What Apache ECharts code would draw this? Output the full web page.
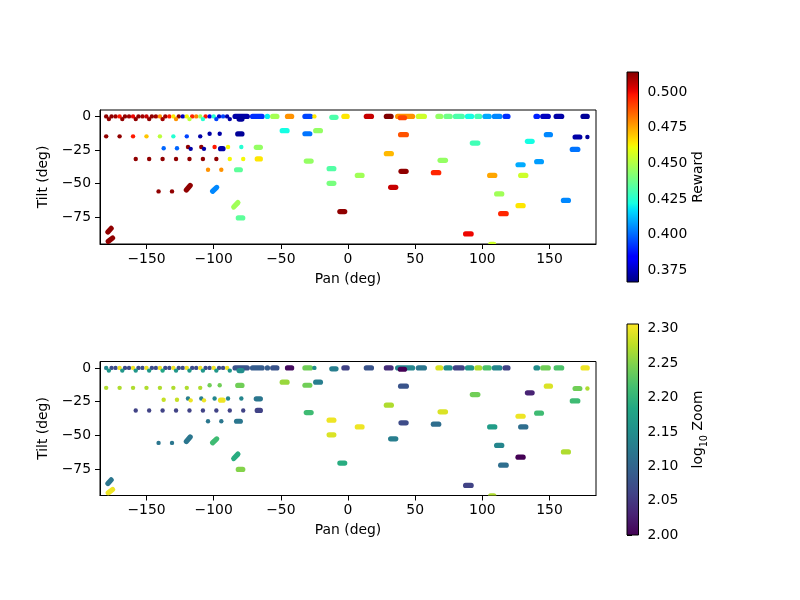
<!DOCTYPE html>
<html><head><meta charset="utf-8">
<script src="https://cdn.jsdelivr.net/npm/echarts@6/dist/echarts.min.js"></script>
<style>html,body{margin:0;padding:0;background:#fff}#c{width:800px;height:600px}</style>
</head><body><div id="c"></div>
<script>
// ---- tick labels ----
const panTicks = [-150, -100, -50, 0, 50, 100, 150];
const tiltTicks = [-75, -50, -25, 0];
const rewardTicks = [0.375, 0.400, 0.425, 0.450, 0.475, 0.500];
const zoomTicks = [2.00, 2.05, 2.10, 2.15, 2.20, 2.25, 2.30];
const rewardRange = [0.367, 0.514];
const zoomRange = [2.00, 2.307];

// ---- single observations (dots) ----
const dotPan = [-180,-176,-173,-170,-166,-163,-160,-156,-153,-150,-146,-143,-140,-136,-133,-130,-126,-123,-120,-116,-113,-110,-106,-103,-100,-96,-93,-90,
  -178,-168,-158,-148,-138,-128,-118,-108,-98,-88,
  -180,-170,-160,-150,-140,-130,-120,-110,
  -103,-95.5,
  -137.2,-127.3,-119.1,-117.1,-109.2,-107.2,-99.3,-89.3,-79.4,
  -158,-148,-138,-128,-118,-108,-98,-88,-78,
  -104.2,-94.3,
  -141,-131,
  178.2,-25];
const dotTilt = [0,0,0,0,0,0,0,0,0,0,0,0,0,0,0,0,0,0,0,0,0,0,0,0,0,0,0,0,
  -2,-2,-2,-2,-2,-2,-2,-2,-2,-2,
  -14.8,-14.8,-14.8,-14.8,-14.8,-14.8,-14.8,-14.8,
  -12.9,-12.9,
  -23.6,-23.6,-22.7,-24.1,-22.7,-24.1,-22.7,-22.7,-22.7,
  -31.6,-31.6,-31.6,-31.6,-31.6,-31.6,-31.6,-31.6,-31.6,
  -39.6,-39.6,
  -55.7,-55.7,
  -15.3,0];
const dotReward = [0.512,0.512,0.510,0.497,0.512,0.510,0.500,0.512,0.510,0.505,0.512,0.510,0.478,0.510,0.497,0.465,0.512,0.375,0.462,0.495,0.480,0.447,0.497,0.380,0.425,0.375,0.395,0.372,
  0.512,0.512,0.512,0.512,0.510,0.478,0.452,0.425,0.395,0.372,
  0.512,0.512,0.497,0.470,0.452,0.425,0.395,0.372,
  0.372,0.372,
  0.400,0.400,0.512,0.372,0.512,0.372,0.497,0.462,0.425,
  0.512,0.512,0.512,0.512,0.512,0.512,0.512,0.462,0.462,
  0.478,0.478,
  0.512,0.512,
  0.370,0.465];
const dotZoom = [2.14,2.07,2.07,2.30,2.07,2.07,2.30,2.07,2.07,2.30,2.07,2.07,2.30,2.07,2.07,2.30,2.07,2.07,2.30,2.07,2.07,2.30,2.07,2.07,2.30,2.07,2.07,2.30,
  2.16,2.16,2.16,2.16,2.18,2.16,2.16,2.16,2.16,2.16,
  2.27,2.27,2.27,2.27,2.27,2.27,2.27,2.27,
  2.24,2.24,
  2.28,2.28,2.13,2.30,2.13,2.30,2.14,2.14,2.14,
  2.06,2.06,2.06,2.06,2.06,2.06,2.06,2.06,2.06,
  2.12,2.12,
  2.12,2.12,
  2.27,2.15];

// ---- sweeps (runs of consecutive observations) ----
const segPan0 = [-86,-73,-62,-58,-83,-47,-34,-14,-5,11.7,26.6,35,37,50.4,65,71,78,87,94,100,107,115,138,143,153,173,
  37.2,90.6,131.6,145.7,167.1,165,26.6,66.6,138.5,124.6,5,37.5,61.6,103.5,126.6,29.8,108.7,124.6,158.4,111.7,85.6,104.2,-8,
  -50.9,-26,-34,-33,-16,-16,-84,-100,-96.8,-70.2,-69.5,-84.9,-121.6,-102.2,-86.4,-83.6,-180,-180];
const segPan1 = [-73,-62,-58,-51,-77,-40,-26,-7,1.3,19.4,34,50,44,58.8,71,78,87,94,100,107,115,121,143,151,161,180,
  45.4,98.6,139,152.6,174.5,173,34.2,74.5,145.9,132.3,12.4,45.2,69.5,111.2,134.3,37.5,116.4,132.3,166,119.7,93.6,110.5,-0.5,
  -43.4,-18.6,-26.5,-25.5,-8.6,-8.6,-77,-97,-91.1,-63.3,-63.3,-78.2,-116.2,-96.3,-80.6,-76.4,-175,-173.7];
const segTilt0 = [0,0,0,0,-2,0,0,-0.7,0,0,0,0,-1,0,0,0,0,0,0,0,0,0,0,0,0,0,
  -13.6,-19.8,-18.5,-13.6,-15.3,-24.5,-27.7,-32.6,-33.6,-35.9,-43.8,-40.8,-41.8,-43.8,-43.8,-52.7,-57.6,-66.3,-62.4,-72.2,-87.3,-95,-70.7,
  -10.6,-10.6,-12.9,-33.2,-38.8,-49.7,-13,-15,-24,-23,-31.6,-39.6,-56.1,-56.9,-68.7,-75.4,-87.3,-94];
const segTilt1 = [0,0,0,0,-2,0,0,-0.7,0,0,0,0,-1,0,0,0,0,0,0,0,0,0,0,0,0,0,
  -13.6,-19.8,-18.5,-13.6,-15.3,-24.5,-27.7,-32.6,-33.6,-35.9,-43.8,-40.8,-41.8,-43.8,-43.8,-52.7,-57.6,-66.3,-62.4,-72.2,-87.3,-95,-70.7,
  -10.6,-10.6,-12.9,-33.2,-38.8,-49.7,-13,-15,-24,-23,-31.6,-39.6,-49.9,-51.4,-62.6,-75.4,-81.7,-89.1];
const segReward = [0.372,0.392,0.420,0.448,0.370,0.478,0.395,0.432,0.465,0.505,0.514,0.478,0.490,0.455,0.445,0.438,0.432,0.422,0.430,0.410,0.405,0.392,0.390,0.375,0.372,0.370,
  0.488,0.430,0.422,0.405,0.372,0.402,0.472,0.445,0.408,0.410,0.447,0.512,0.495,0.475,0.455,0.505,0.447,0.465,0.405,0.495,0.500,0.455,0.512,
  0.422,0.445,0.402,0.445,0.433,0.440,0.370,0.372,0.372,0.445,0.465,0.435,0.512,0.405,0.447,0.435,0.512,0.512];
const segZoom = [2.08,2.09,2.09,2.08,2.15,2.01,2.24,2.13,2.06,2.08,2.04,2.14,2.00,2.12,2.29,2.15,2.06,2.16,2.27,2.22,2.14,2.06,2.15,2.24,2.22,2.30,
  2.08,2.24,2.03,2.29,2.24,2.21,2.27,2.29,2.21,2.30,2.30,2.07,2.11,2.17,2.11,2.13,2.14,2.00,2.27,2.11,2.06,2.27,2.19,
  2.26,2.13,2.24,2.21,2.30,2.29,2.24,2.27,2.30,2.12,2.06,2.12,2.12,2.21,2.19,2.25,2.12,2.30];

// ---- colormaps ----
function interp(x, xs, ys) {
  for (let i = 1; i < xs.length; i++) {
    if (x <= xs[i]) { const t = (x - xs[i-1]) / (xs[i] - xs[i-1]); return ys[i-1] + t * (ys[i] - ys[i-1]); }
  }
  return ys[ys.length - 1];
}
function jet(x) {
  const r = interp(x, [0, 0.35, 0.66, 0.89, 1], [0, 0, 1, 1, 0.5]);
  const g = interp(x, [0, 0.125, 0.375, 0.64, 0.91, 1], [0, 0, 1, 1, 0, 0]);
  const b = interp(x, [0, 0.11, 0.34, 0.65, 1], [0.5, 1, 1, 0, 0]);
  return 'rgb(' + Math.round(r*255) + ',' + Math.round(g*255) + ',' + Math.round(b*255) + ')';
}
const jetColors = [];
for (let i = 0; i <= 64; i++) jetColors.push(jet(i / 64));
const viridisColors = ['#440154','#482475','#414487','#355f8d','#2a788e','#21918c','#22a884','#44bf70','#7ad151','#bddf26','#fde725'];

const dots = dotPan.map((p, i) => [p, dotTilt[i], dotReward[i], dotZoom[i]]);
const segs = segPan0.map((p, i) => [p, segTilt0[i], segPan1[i], segTilt1[i], segReward[i], segZoom[i]]);

const FONT = 'DejaVu Sans';
const FS = 13.9;
const minus = v => String(v).replace('-', '\u2212');

function segRender(params, api) {
  const a = api.coord([api.value(0), api.value(1)]);
  const b = api.coord([api.value(2), api.value(3)]);
  const dx = b[0] - a[0], dy = b[1] - a[1];
  const len = Math.sqrt(dx*dx + dy*dy) || 1;
  const ins = Math.min(2.6, len / 2);
  const ux = dx / len, uy = dy / len;
  return {
    type: 'line',
    shape: { x1: a[0] + ux*ins, y1: a[1] + uy*ins, x2: b[0] - ux*ins, y2: b[1] - uy*ins },
    style: { stroke: api.visual('color'), lineWidth: 5.2, lineCap: 'round', fill: null }
  };
}

function cbarRender(colors, lo, hi) {
  return function (params, api) {
    const p0 = api.coord([0, lo]);
    const p1 = api.coord([1, hi]);
    const stops = colors.map((c, i) => ({ offset: i / (colors.length - 1), color: c }));
    return {
      type: 'rect',
      shape: { x: p0[0], y: p1[1], width: p1[0] - p0[0], height: p0[1] - p1[1] },
      style: { fill: new echarts.graphic.LinearGradient(0, 1, 0, 0, stops), stroke: '#000', lineWidth: 1 }
    };
  };
}

const txt = { color: '#000', fontFamily: FONT, fontSize: FS };

function panAxis(g) {
  return {
    type: 'value', gridIndex: g, min: -184.6, max: 184.6,
    splitLine: { show: false },
    axisLine: { show: true, onZero: false, lineStyle: { color: '#000', width: 1 } },
    axisTick: { show: true, length: 5, lineStyle: { color: '#000' }, customValues: panTicks },
    axisLabel: Object.assign({ customValues: panTicks, formatter: minus, margin: 8 }, txt),
    name: 'Pan (deg)', nameLocation: 'middle', nameGap: 28, nameTextStyle: txt
  };
}
function tiltAxis(g) {
  return {
    type: 'value', gridIndex: g, min: -94.75, max: 4.75,
    splitLine: { show: false },
    axisLine: { show: true, onZero: false, lineStyle: { color: '#000', width: 1 } },
    axisTick: { show: true, length: 5, lineStyle: { color: '#000' }, customValues: tiltTicks },
    axisLabel: Object.assign({ customValues: tiltTicks, formatter: minus, margin: 9 }, txt),
    name: 'Tilt (deg)', nameLocation: 'middle', nameGap: 37, nameRotate: 90, nameTextStyle: txt
  };
}
function cbarY(g, lo, hi, ticks, fmt, name, rich) {
  return {
    type: 'value', gridIndex: g, position: 'right', min: lo, max: hi,
    splitLine: { show: false },
    axisLine: { show: false },
    axisTick: { show: true, length: 5, lineStyle: { color: '#000' }, customValues: ticks },
    axisLabel: Object.assign({ customValues: ticks, formatter: fmt, margin: 9 }, txt),
    name: name, nameLocation: 'middle', nameGap: 53, nameRotate: 90,
    nameTextStyle: Object.assign({ rich: rich || {} }, txt)
  };
}

const option = {
  animation: false,
  backgroundColor: '#fff',
  grid: [
    { left: 100, top: 110, width: 496, height: 134, show: true, borderColor: '#000', borderWidth: 1, backgroundColor: 'transparent' },
    { left: 100, top: 361.5, width: 496, height: 134, show: true, borderColor: '#000', borderWidth: 1, backgroundColor: 'transparent' },
    { left: 627, top: 72, width: 11.5, height: 210 },
    { left: 627, top: 324, width: 11.5, height: 211 }
  ],
  xAxis: [
    panAxis(0), panAxis(1),
    { type: 'value', gridIndex: 2, min: 0, max: 1, show: false },
    { type: 'value', gridIndex: 3, min: 0, max: 1, show: false }
  ],
  yAxis: [
    tiltAxis(0), tiltAxis(1),
    cbarY(2, rewardRange[0], rewardRange[1], rewardTicks, v => v.toFixed(3), 'Reward'),
    cbarY(3, zoomRange[0], zoomRange[1], zoomTicks, v => v.toFixed(2), 'log{sub|10} Zoom',
      { sub: { fontSize: 9.7, verticalAlign: 'bottom', padding: [0, 0, -4, 0], color: '#000', fontFamily: FONT } })
  ],
  visualMap: [
    { type: 'continuous', show: false, seriesIndex: 0, dimension: 2, min: rewardRange[0], max: rewardRange[1], inRange: { color: jetColors } },
    { type: 'continuous', show: false, seriesIndex: 1, dimension: 4, min: rewardRange[0], max: rewardRange[1], inRange: { color: jetColors } },
    { type: 'continuous', show: false, seriesIndex: 2, dimension: 3, min: zoomRange[0], max: zoomRange[1], inRange: { color: viridisColors } },
    { type: 'continuous', show: false, seriesIndex: 3, dimension: 5, min: zoomRange[0], max: zoomRange[1], inRange: { color: viridisColors } }
  ],
  series: [
    { type: 'scatter', xAxisIndex: 0, yAxisIndex: 0, data: dots, symbolSize: 4.4, itemStyle: { opacity: 1 }, silent: true },
    { type: 'custom', xAxisIndex: 0, yAxisIndex: 0, data: segs, encode: { x: [0, 2], y: [1, 3] }, renderItem: segRender, clip: true, silent: true },
    { type: 'scatter', xAxisIndex: 1, yAxisIndex: 1, data: dots, symbolSize: 4.4, itemStyle: { opacity: 1 }, silent: true },
    { type: 'custom', xAxisIndex: 1, yAxisIndex: 1, data: segs, encode: { x: [0, 2], y: [1, 3] }, renderItem: segRender, clip: true, silent: true },
    { type: 'custom', xAxisIndex: 2, yAxisIndex: 2, data: [[0, rewardRange[0]]], renderItem: cbarRender(jetColors, rewardRange[0], rewardRange[1]), silent: true },
    { type: 'custom', xAxisIndex: 3, yAxisIndex: 3, data: [[0, zoomRange[0]]], renderItem: cbarRender(viridisColors, zoomRange[0], zoomRange[1]), silent: true }
  ]
};

const chart = echarts.init(document.getElementById('c'), null, { renderer: 'canvas' });
chart.setOption(option);
</script>
</body></html>
